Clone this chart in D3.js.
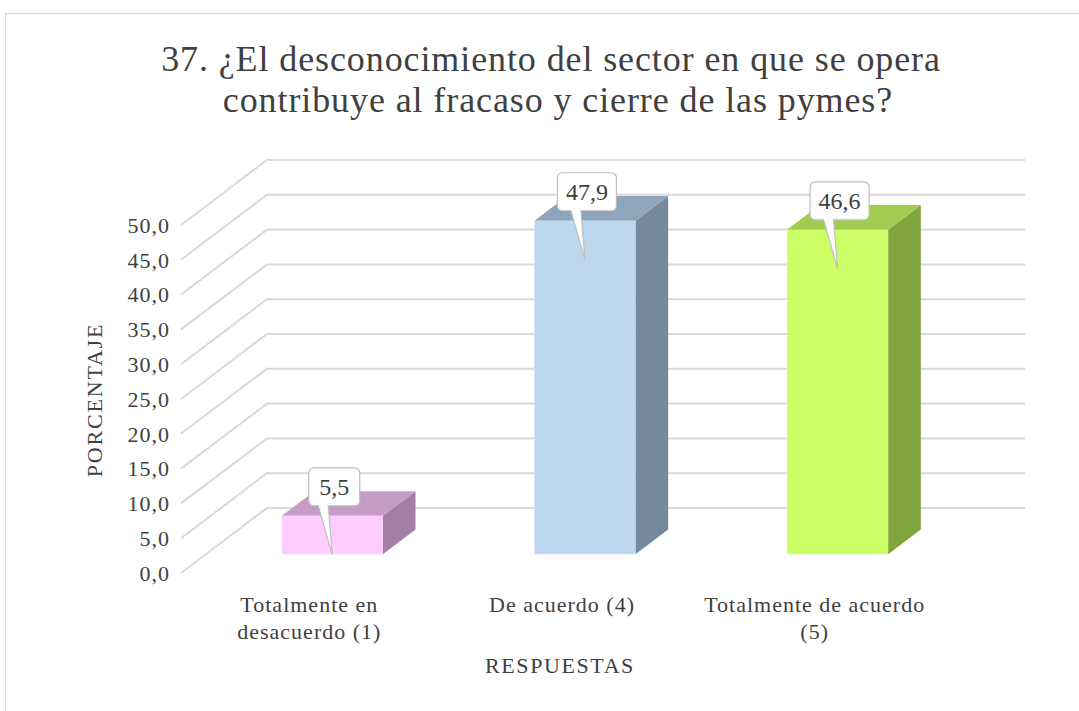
<!DOCTYPE html>
<html>
<head>
<meta charset="utf-8">
<script src="https://cdn.jsdelivr.net/npm/d3@7/dist/d3.min.js"></script>
<style>
  html, body { margin: 0; padding: 0; background: #fff; }
  svg { display: block; }
  text { font-family: "Liberation Serif", "Times New Roman", serif; fill: #404040; }
</style>
</head>
<body>
<script>
// Survey question 37: share of answers per response option (percent)
const categories = [["Totalmente en", "desacuerdo (1)"], ["De acuerdo (4)"], ["Totalmente de acuerdo", "(5)"]];
const values = [5.5, 47.9, 46.6];
const valueLabels = ["5,5", "47,9", "46,6"];
const tickValues = [0, 5, 10, 15, 20, 25, 30, 35, 40, 45, 50];
const tickLabels = ["0,0", "5,0", "10,0", "15,0", "20,0", "25,0", "30,0", "35,0", "40,0", "45,0", "50,0"];
const titleLines = ["37. ¿El desconocimiento del sector en que se opera", "contribuye al fracaso y cierre de las pymes?"];
const xTitle = "RESPUESTAS";
const yTitle = "PORCENTAJE";

const faceColors = [
  { front: "#FFCCFF", top: "#C49CC6", side: "#A37FA5" },
  { front: "#BDD7EE", top: "#8FA5BB", side: "#758A9C" },
  { front: "#CCFF66", top: "#A2CC50", side: "#80A43E" }
];

const W = 1079, H = 711;
const svg = d3.select("body").append("svg").attr("width", W).attr("height", H);

// chart frame
svg.append("rect").attr("x", 5.5).attr("y", 13.5).attr("width", 1200).attr("height", 800)
  .attr("fill", "#fff").attr("stroke", "#D9D9D9").attr("stroke-width", 1.2);

// 3D projection: front plane + depth offset
const front = { left: 181, right: 939 };
const depth = { dx: 86, dy: -65 };
const y = d3.scaleLinear().domain([0, 50]).range([573, 225]);
const x = d3.scaleBand().domain(d3.range(categories.length))
  .range([front.left, front.right]).paddingInner(0.6).paddingOuter(0.3);
const barDepth = [0.29, 0.67];

// title (second line sits slightly right of the first)
const titleX = [551, 558];
svg.append("g").selectAll("text").data(titleLines).join("text")
  .attr("x", (d, i) => titleX[i]).attr("y", (d, i) => 71 + i * 41)
  .attr("text-anchor", "middle").attr("font-size", 36).attr("letter-spacing", 0.9)
  .attr("fill", "#4A4A4A")
  .text(d => d);

// gridlines on the side and back walls
svg.append("g").selectAll("polyline").data(tickValues).join("polyline")
  .attr("points", d => {
    const y0 = y(d);
    return [[front.left, y0], [front.left + depth.dx, y0 + depth.dy], [1025, y0 + depth.dy]].map(p => p.join(",")).join(" ");
  })
  .attr("fill", "none").attr("stroke", "#D9D9D9").attr("stroke-width", 2);

// y tick labels
svg.append("g").selectAll("text").data(tickValues).join("text")
  .attr("x", 170).attr("y", d => y(d)).attr("dy", "0.35em")
  .attr("text-anchor", "end").attr("font-size", 22).attr("letter-spacing", 1)
  .text((d, i) => tickLabels[i]);

// bars as prisms
const bars = svg.append("g");
values.forEach((v, i) => {
  const ox = depth.dx * barDepth[0], oy = depth.dy * barDepth[0];
  const bx = depth.dx * (barDepth[1] - barDepth[0]), by = depth.dy * (barDepth[1] - barDepth[0]);
  const x0 = x(i) + ox, x1 = x(i) + x.bandwidth() + ox;
  const yb = y(0) + oy, yt = y(v) + oy;
  const pts = a => a.map(p => p.join(",")).join(" ");
  bars.append("polygon").attr("points", pts([[x1, yt], [x1 + bx, yt + by], [x1 + bx, yb + by], [x1, yb]]))
    .attr("fill", faceColors[i].side);
  bars.append("polygon").attr("points", pts([[x0, yt], [x1, yt], [x1 + bx, yt + by], [x0 + bx, yt + by]]))
    .attr("fill", faceColors[i].top);
  bars.append("rect").attr("x", x0).attr("y", yt).attr("width", x1 - x0).attr("height", yb - yt)
    .attr("fill", faceColors[i].front);
});

// callout data labels
const callouts = svg.append("g");
values.forEach((v, i) => {
  const ox = depth.dx * barDepth[0], oy = depth.dy * barDepth[0];
  const cx = x(i) + x.bandwidth() / 2 + ox;
  const yt = y(v) + oy;
  const label = valueLabels[i];
  const bw = label.length > 3 ? 59 : 51, bh = 38;
  const bx0 = cx - bw / 2 + 2, by1 = yt - 10, by0 = by1 - bh, r = 5;
  const tipY = yt + 39;
  const p = d3.path();
  p.moveTo(bx0 + r, by0);
  p.lineTo(bx0 + bw - r, by0);
  p.arcTo(bx0 + bw, by0, bx0 + bw, by0 + r, r);
  p.lineTo(bx0 + bw, by1 - r);
  p.arcTo(bx0 + bw, by1, bx0 + bw - r, by1, r);
  p.lineTo(cx - 4, by1);
  p.lineTo(cx, tipY);
  p.lineTo(cx - 14, by1);
  p.lineTo(bx0 + r, by1);
  p.arcTo(bx0, by1, bx0, by1 - r, r);
  p.lineTo(bx0, by0 + r);
  p.arcTo(bx0, by0, bx0 + r, by0, r);
  p.closePath();
  callouts.append("path").attr("d", p.toString())
    .attr("fill", "#fff").attr("stroke", "#BFBFBF").attr("stroke-width", 1.2);
  callouts.append("text").attr("x", bx0 + bw / 2).attr("y", by0 + bh / 2).attr("dy", "0.35em")
    .attr("text-anchor", "middle").attr("font-size", 24).text(label);
});

// category labels
const cat = svg.append("g");
categories.forEach((lines, i) => {
  const cx = x(i) + x.bandwidth() / 2;
  cat.append("text").attr("text-anchor", "middle").attr("font-size", 22).attr("letter-spacing", 1)
    .selectAll("tspan").data(lines).join("tspan")
    .attr("x", cx + 2).attr("y", (d, j) => 612 + j * 27).text(d => d);
});

// axis titles
svg.append("text").attr("x", 560).attr("y", 673).attr("text-anchor", "middle")
  .attr("font-size", 22).attr("letter-spacing", 1.6).text(xTitle);
svg.append("text").attr("transform", "translate(102,400) rotate(-90)").attr("text-anchor", "middle")
  .attr("font-size", 22).attr("letter-spacing", 1.8).text(yTitle);
</script>
</body>
</html>
